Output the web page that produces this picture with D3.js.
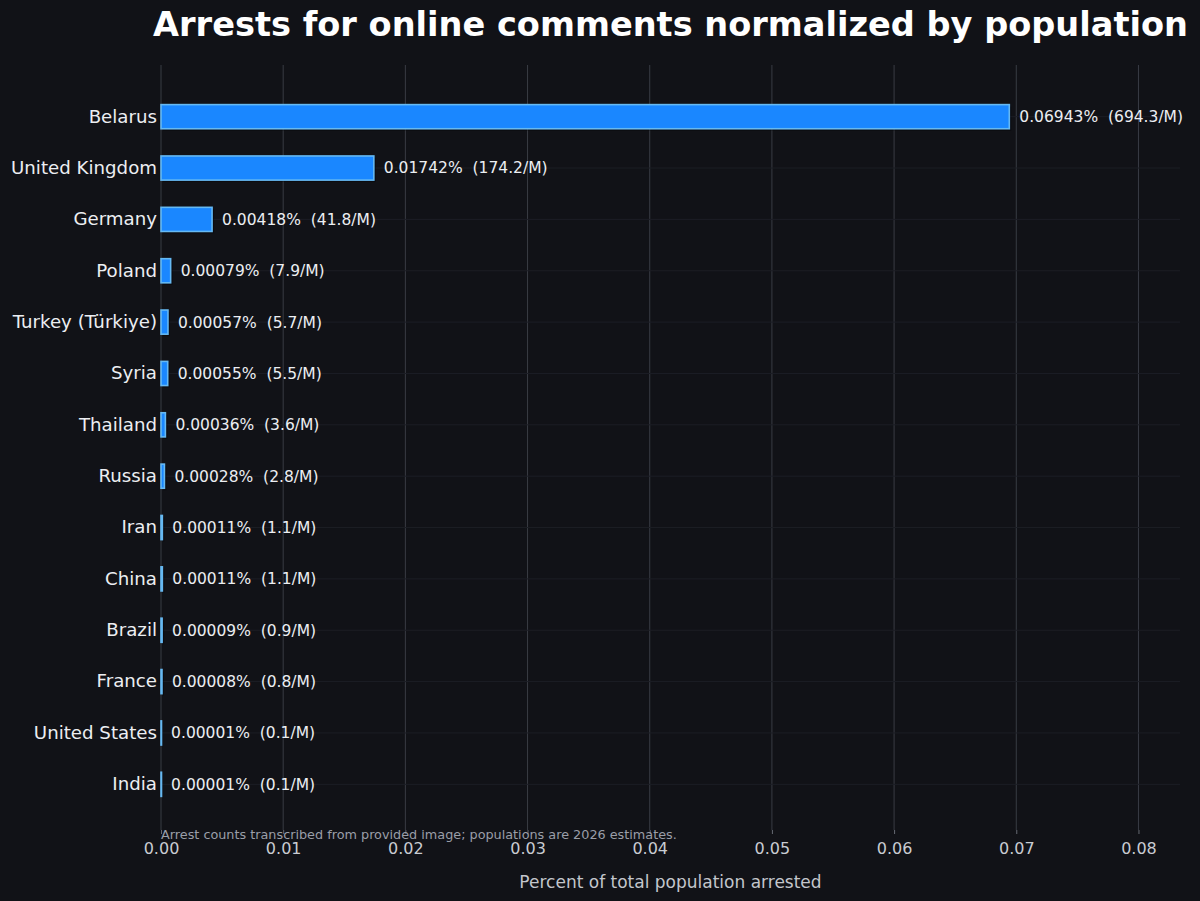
<!DOCTYPE html>
<html><head><meta charset="utf-8">
<script src="https://cdn.jsdelivr.net/npm/d3@7/dist/d3.min.js"></script>
<style>
html,body{margin:0;padding:0;background:#111217;}
svg{display:block;font-family:"DejaVu Sans",sans-serif;}
</style></head>
<body>
<svg id="chart" width="1200" height="901"></svg>
<script>
const countries = ["Belarus","United Kingdom","Germany","Poland","Turkey (Türkiye)","Syria","Thailand","Russia","Iran","China","Brazil","France","United States","India"];
const percentValues = [0.06943,0.01742,0.00418,0.00079,0.00057,0.00055,0.00036,0.00028,0.00011,0.00011,0.00009,0.00008,0.00001,0.00001];
const perMillion = [694.3,174.2,41.8,7.9,5.7,5.5,3.6,2.8,1.1,1.1,0.9,0.8,0.1,0.1];
const xTicks = [0,0.01,0.02,0.03,0.04,0.05,0.06,0.07,0.08];
const titleText = "Arrests for online comments normalized by population";
const xLabel = "Percent of total population arrested";
const footnote = "Arrest counts transcribed from provided image; populations are 2026 estimates.";

const svg = d3.select("#chart");
const W = 1200, H = 901;
const m = {left:161, right:20, top:65, bottom:71};
svg.append("rect").attr("width",W).attr("height",H).attr("fill","#111217");

const x = d3.scaleLinear().domain([0,0.0834]).range([m.left, W-m.right]);
const y = d3.scaleBand().domain(countries).range([91, 810]).paddingInner(0.53).paddingOuter(0.265);

// vertical grid
svg.append("g").selectAll("line").data(xTicks).join("line")
  .attr("x1",d=>x(d)).attr("x2",d=>x(d)).attr("y1",m.top).attr("y2",H-m.bottom)
  .attr("stroke","#393c44").attr("stroke-width",1);
// horizontal faint grid
svg.append("g").selectAll("line").data(countries).join("line")
  .attr("x1",m.left).attr("x2",W-m.right)
  .attr("y1",d=>y(d)+y.bandwidth()/2).attr("y2",d=>y(d)+y.bandwidth()/2)
  .attr("stroke","#1c1e25").attr("stroke-width",1);

// x axis ticks
const xAxis = d3.axisBottom(x).tickValues(xTicks).tickFormat(d3.format(".2f")).tickSize(4).tickPadding(9);
const gx = svg.append("g").attr("transform",`translate(0,${H-m.bottom})`).call(xAxis);
gx.select(".domain").remove();
gx.selectAll(".tick line").attr("stroke","#666a73");
gx.selectAll(".tick text").attr("fill","#c9ccd2").attr("font-size",16).attr("font-family","DejaVu Sans, sans-serif");

// y axis labels
const yAxis = d3.axisLeft(y).tickSize(0).tickPadding(4);
const gy = svg.append("g").attr("transform",`translate(${m.left},0)`).call(yAxis);
gy.select(".domain").remove();
gy.selectAll(".tick text").attr("fill","#eceef2").attr("font-size",18.2).attr("font-family","DejaVu Sans, sans-serif");

// bars: shadow
svg.append("g").selectAll("rect").data(countries).join("rect")
  .attr("x",m.left+2).attr("y",d=>y(d)+2)
  .attr("width",(d,i)=>Math.max(0,x(percentValues[i])-x(0)))
  .attr("height",y.bandwidth())
  .attr("fill","#000").attr("opacity",0.35);
svg.append("g").selectAll("rect").data(countries).join("rect")
  .attr("x",x(0)).attr("y",d=>y(d))
  .attr("width",(d,i)=>Math.max(0.5,x(percentValues[i])-x(0)))
  .attr("height",y.bandwidth())
  .attr("fill","#1a87ff").attr("stroke","#66b9f2").attr("stroke-width",1.6);

// value labels
svg.append("g").selectAll("text").data(countries).join("text")
  .attr("x",(d,i)=>x(percentValues[i])+10)
  .attr("y",d=>y(d)+y.bandwidth()/2)
  .attr("dy","0.35em")
  .attr("fill","#eceef2").attr("font-size",15.5)
  .attr("xml:space","preserve")
  .text((d,i)=>`${percentValues[i].toFixed(5)}%  (${perMillion[i].toFixed(1)}/M)`);

// title
svg.append("text").attr("x",(m.left+W-m.right)/2).attr("y",36).attr("text-anchor","middle")
  .attr("fill","#ffffff").attr("font-size",33.6).attr("font-weight","bold").text(titleText);

// footnote
svg.append("text").attr("x",m.left).attr("y",839).attr("fill","#9a9ea8").attr("font-size",12.8).text(footnote);

// x label
svg.append("text").attr("x",(m.left+W-m.right)/2).attr("y",888).attr("text-anchor","middle")
  .attr("fill","#c3c6cc").attr("font-size",17).text(xLabel);
</script>
</body></html>
